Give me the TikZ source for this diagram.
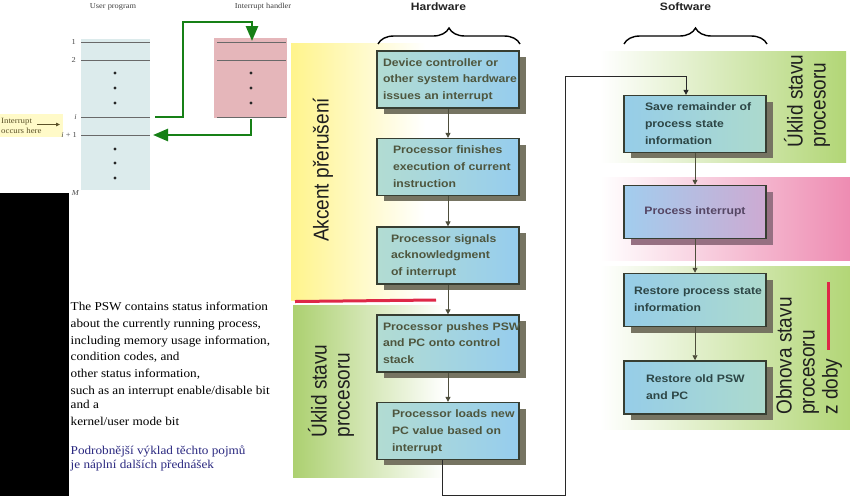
\documentclass[tikz,border=0pt]{standalone}
\usepackage{fontspec}
\setmainfont{Liberation Serif}
\setsansfont{Liberation Sans}
\newfontfamily\boxfont[FakeStretch=1.13]{Liberation Sans}
\newfontfamily\rotfont[FakeStretch=0.885]{Liberation Sans}
\newfontfamily\psfont[FakeStretch=1.1]{Liberation Serif}
\usetikzlibrary{arrows.meta,decorations.pathreplacing,shadows}
\newcommand{\bxlines}[1]{\begin{tabular}{@{}l@{}}#1\end{tabular}}
\definecolor{upfill}{RGB}{220,235,236}
\definecolor{ihfill}{RGB}{229,182,186}
\definecolor{progline}{RGB}{105,105,105}
\definecolor{garc}{RGB}{22,128,22}
\definecolor{occfill}{RGB}{255,250,200}
\definecolor{olive}{RGB}{92,82,40}
\definecolor{yelc}{RGB}{255,244,140}
\definecolor{grnc}{RGB}{172,208,112}
\definecolor{grnr}{RGB}{178,214,118}
\definecolor{pinkc}{RGB}{238,140,178}
\definecolor{redc}{RGB}{222,40,72}
\definecolor{boxline}{RGB}{55,62,50}
\definecolor{hwL}{RGB}{178,220,210}
\definecolor{hwR}{RGB}{150,205,238}
\definecolor{hwtext}{RGB}{78,86,62}
\definecolor{swL}{RGB}{150,205,232}
\definecolor{swR}{RGB}{172,218,205}
\definecolor{swtext}{RGB}{45,70,70}
\definecolor{piL}{RGB}{162,205,238}
\definecolor{piR}{RGB}{205,170,210}
\definecolor{pitext}{RGB}{85,70,100}
\definecolor{pishadow}{RGB}{150,112,130}
\definecolor{shadowc}{RGB}{118,116,98}
\definecolor{flowc}{RGB}{78,78,60}
\definecolor{loopc}{RGB}{40,40,40}
\definecolor{bluetext}{RGB}{42,40,128}
\definecolor{headc}{RGB}{35,35,35}
\begin{document}
\begin{tikzpicture}[x=1pt,y=-1pt,
  box/.style={draw=boxline, line width=1.5pt, minimum width=142pt, minimum height=53pt,
    align=left, font=\boxfont\bfseries\fontsize{10.8}{16.7}\selectfont,
    text=hwtext, left color=hwL, right color=hwR,
    drop shadow={shadow xshift=7pt, shadow yshift=-6pt, fill=shadowc, opacity=1}},
  swbox/.style={box, text=swtext, left color=swL, right color=swR},
  pibox/.style={box, align=center, text=pitext, left color=piL, right color=piR,
    drop shadow={shadow xshift=7pt, shadow yshift=-6pt, fill=pishadow, opacity=1}},
  flow/.style={draw=flowc, line width=0.9pt, -{Triangle[length=5pt,width=5pt]}},
  loopline/.style={draw=loopc, line width=0.9pt, -{Triangle[length=5pt,width=5pt]}},
  garrow/.style={draw=garc, line width=2.6pt, -{Triangle[length=15pt,width=12pt]}},
  head/.style={font=\boxfont\bfseries\fontsize{10.7}{12}\selectfont, text=headc},
  brc/.style={draw=black, line width=1.4pt, decorate, decoration={brace, amplitude=16pt}},
  rot/.style={rotate=90, align=left, font=\rotfont\fontsize{21.5}{23}\selectfont, text=black!88},
  small/.style={font=\psfont\fontsize{7.6}{9}\selectfont, text=black!75},
  num/.style={font=\psfont\fontsize{7.6}{9}\selectfont, text=black!70, anchor=east, inner sep=0pt},
  pst/.style={anchor=north west, align=left, inner sep=0pt, font=\psfont\fontsize{12}{16.7}\selectfont}
]
\useasboundingbox (0,0) rectangle (850,496);
\fill[white] (0,0) rectangle (850,496);

% ---------- coloured regions ----------
\shade[left color=yelc, right color=white] (291,43) rectangle (425,300);
\shade[left color=grnc, right color=white] (293,305) rectangle (445,477);
\shade[left color=white, right color=grnr] (600,51) rectangle (846,162);
\shade[left color=white, right color=pinkc] (600,177) rectangle (850,260);
\shade[left color=white, right color=grnr] (600,266) rectangle (851,429);
\draw[redc, line width=3pt] (295,301.5) -- (436,300);
\draw[redc, line width=3pt] (828,282) -- (828,350);

% ---------- user program / interrupt handler ----------
\node[small] (upl) at (113,7) {User program};
\node[small] (ihl) at (263,7) {Interrupt handler};
\fill[upfill] (81,39) rectangle (150,190);
\foreach \yy in {42,60,117,135} \draw[progline, line width=0.8pt] (81,\yy) -- (150,\yy);
\foreach \yy in {73,88,103,149,163,178} \fill[black!85] (115,\yy) circle (1.7);
\fill[ihfill] (214,38) rectangle (287,118);
\foreach \yy in {42,60,117} \draw[progline, line width=0.8pt] (217,\yy) -- (286,\yy);
\foreach \yy in {73,88,103} \fill[black!85] (251,\yy) circle (1.7);

\fill[occfill] (0,114) rectangle (63,137);
\node[anchor=west, align=left, inner sep=0pt, font=\psfont\fontsize{8}{10}\selectfont, text=olive] (occ) at (1,125.5) {Interrupt\\occurs here};
\coordinate (oa1) at (37,124.5);
\coordinate (oa2) at (60,124.5);
\draw[olive, line width=0.8pt, -{Triangle[length=4pt,width=3.5pt]}] (oa1) -- (oa2);

\node[num] (n1) at (76,42) {1};
\node[num] (n2) at (76,60) {2};
\node[num] (ni) at (77,117) {\itshape i};
\node[num] (ni1) at (77,135) {\itshape i\upshape\ + 1};
\node[num] (nm) at (79,193) {\itshape M};

\coordinate (gi) at (155,117);
\coordinate (gc) at (183,22);
\coordinate (gt) at (252,41);
\draw[garrow] (gi) -| (gc) -| (gt);
\coordinate (gr1) at (251,119);
\coordinate (gr2) at (153,135);
\draw[garrow] (gr1) |- (gr2);

% ---------- headings and braces ----------
\node[head] (hw) at (438.5,6.5) {Hardware};
\node[head] (sw) at (685.5,6.5) {Software};
\coordinate (bh1) at (378,44);
\coordinate (bh2) at (520,44);
\coordinate (bs1) at (624,44);
\coordinate (bs2) at (767,44);
\draw[brc] (bh1) -- (bh2);
\draw[brc] (bs1) -- (bs2);

% ---------- rotated labels ----------
\node[rot] (ak) at (323,170) {Akcent přerušení};
\node[rot] (uk1) at (331,391) {Úklid stavu\\procesoru};
\node[rot] (uk2) at (807,101) {Úklid stavu\\procesoru};
\node[rot] (ob) at (809,356) {Obnova stavu\\procesoru\\z doby};

% ---------- hardware boxes ----------
\node[box, inner xsep=6pt, text width=130pt] (h1) at (448,79.5) {\bxlines{Device controller or\\other system hardware\\issues an interrupt}};
\node[box, inner xsep=16pt, text width=110pt] (h2) at (448,167) {\bxlines{Processor finishes\\execution of current\\instruction}};
\node[box, inner xsep=14pt, text width=114pt] (h3) at (448,255.5) {\bxlines{Processor signals\\acknowledgment\\of interrupt}};
\node[box, inner xsep=6pt, text width=130pt] (h4) at (448,343.5) {\bxlines{Processor pushes PSW\\and PC onto control\\stack}};
\node[box, inner xsep=15pt, text width=112pt] (h5) at (448,431) {\bxlines{Processor loads new\\PC value based on\\interrupt}};

% ---------- software boxes ----------
\node[swbox, inner xsep=21pt, text width=100pt] (s1) at (695,124) {\bxlines{Save remainder of\\process state\\information}};
\node[pibox] (s2) at (695,212) {Process interrupt};
\node[swbox, inner xsep=10pt, text width=122pt] (s3) at (695,300) {\bxlines{Restore process state\\information}};
\node[swbox, inner xsep=22pt, text width=98pt] (s4) at (695,387.5) {\bxlines{Restore old PSW\\and PC}};

% ---------- connectors ----------
\draw[flow] (h1) -- (h2);
\draw[flow] (h2) -- (h3);
\draw[flow] (h3) -- (h4);
\draw[flow] (h4) -- (h5);
\draw[flow] (s1) -- (s2);
\draw[flow] (s2) -- (s3);
\draw[flow] (s3) -- (s4);
\coordinate (lp1) at (565,495);
\coordinate (lp2) at (565,76);
\draw[loopline] ([xshift=-6pt]h5.south) |- (lp1) -- (lp2) -| ([xshift=-9pt]s1.north);

% ---------- left text ----------
\node[pst] (psw) at (70.5,302) {The PSW contains status information\\
about the currently running process,\\
including memory usage information,\\
condition codes, and\\
other status information,\\
such as an interrupt enable/disable bit\\[-2.5pt]
and a\\
kernel/user mode bit};
\node[pst, text=bluetext, font=\psfont\fontsize{12}{13.5}\selectfont] (pod) at (70.5,446) {Podrobnější výklad těchto pojmů\\je náplní dalších přednášek};

% ---------- black panel ----------
\fill[black] (0,193) rectangle (69,496);
\end{tikzpicture}
\end{document}
